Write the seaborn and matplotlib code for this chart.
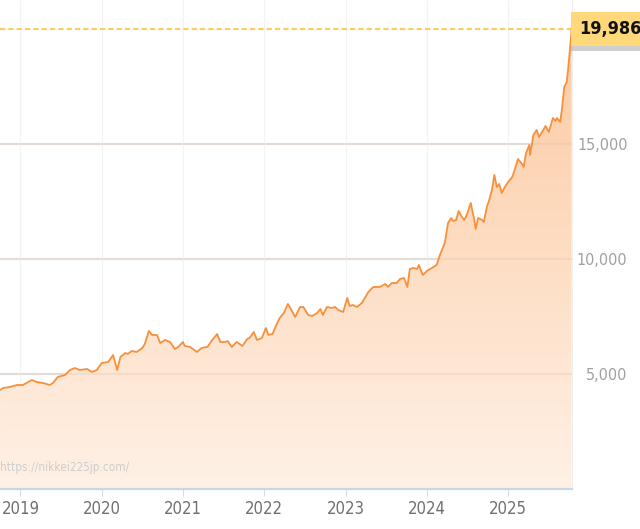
import numpy as np
import pandas as pd
import matplotlib
matplotlib.use("Agg")
import matplotlib.pyplot as plt
import matplotlib.patheffects as pe
from matplotlib.colors import LinearSegmentedColormap
import seaborn as sns

# ---- data ----
years = [2018.75, 2018.79, 2018.87, 2018.96, 2019.03, 2019.14, 2019.20, 2019.28, 2019.36, 2019.40,
         2019.46, 2019.55, 2019.61, 2019.67, 2019.73, 2019.82, 2019.88, 2019.94, 2020.00, 2020.08,
         2020.14, 2020.19, 2020.23, 2020.29, 2020.32, 2020.37, 2020.43, 2020.50, 2020.53, 2020.58,
         2020.62, 2020.68, 2020.72, 2020.78, 2020.84, 2020.90, 2020.94, 2021.00, 2021.02, 2021.09,
         2021.17, 2021.23, 2021.30, 2021.36, 2021.42, 2021.46, 2021.52, 2021.55, 2021.60, 2021.66,
         2021.73, 2021.79, 2021.82, 2021.87, 2021.91, 2021.97, 2022.02, 2022.05, 2022.10, 2022.16,
         2022.19, 2022.24, 2022.29, 2022.32, 2022.38, 2022.44, 2022.48, 2022.54, 2022.59, 2022.65,
         2022.69, 2022.72, 2022.77, 2022.83, 2022.87, 2022.91, 2022.97, 2023.02, 2023.05, 2023.09,
         2023.14, 2023.20, 2023.28, 2023.34, 2023.42, 2023.49, 2023.52, 2023.57, 2023.63, 2023.67,
         2023.72, 2023.76, 2023.79, 2023.83, 2023.88, 2023.90, 2023.95, 2024.00, 2024.06, 2024.12,
         2024.16, 2024.22, 2024.26, 2024.30, 2024.32, 2024.36, 2024.39, 2024.43, 2024.46, 2024.49,
         2024.54, 2024.57, 2024.58, 2024.60, 2024.63, 2024.68, 2024.70, 2024.74, 2024.76, 2024.80,
         2024.83, 2024.86, 2024.89, 2024.92, 2024.96, 2025.00, 2025.05, 2025.08, 2025.12, 2025.17,
         2025.19, 2025.22, 2025.26, 2025.27, 2025.31, 2025.35, 2025.38, 2025.43, 2025.46, 2025.50,
         2025.55, 2025.58, 2025.60, 2025.64, 2025.66, 2025.69, 2025.72, 2025.74, 2025.77, 2025.78]
values = [4305, 4391, 4435, 4522, 4522, 4739, 4652, 4609, 4522, 4609,
          4870, 4957, 5174, 5261, 5174, 5218, 5087, 5174, 5478, 5522,
          5826, 5174, 5739, 5913, 5870, 6000, 5957, 6131, 6305, 6870,
          6696, 6696, 6348, 6479, 6392, 6087, 6174, 6392, 6218, 6174,
          5957, 6131, 6174, 6479, 6739, 6392, 6392, 6435, 6174, 6392,
          6218, 6522, 6565, 6826, 6479, 6565, 7000, 6696, 6739, 7218,
          7435, 7652, 8044, 7870, 7479, 7913, 7913, 7565, 7522, 7652,
          7826, 7565, 7913, 7870, 7913, 7783, 7696, 8305, 7957, 8000,
          7913, 8087, 8565, 8783, 8783, 8913, 8783, 8957, 8957, 9131,
          9174, 8783, 9566, 9609, 9566, 9739, 9305, 9479, 9609, 9739,
          10174, 10696, 11566, 11783, 11653, 11696, 12087, 11827, 11696, 11914,
          12435, 11914, 11783, 11305, 11783, 11696, 11609, 12305, 12479, 13000,
          13653, 13131, 13261, 12870, 13131, 13348, 13566, 13870, 14348, 14131,
          14000, 14609, 14957, 14522, 15392, 15609, 15305, 15609, 15783, 15522,
          16131, 16000, 16131, 15957, 16479, 17479, 17696, 18348, 19522, 19986]
x_ticks = [2019, 2020, 2021, 2022, 2023, 2024, 2025]
x_labels = ["2019", "2020", "2021", "2022", "2023", "2024", "2025"]
y_ticks = [5000, 10000, 15000]
y_labels = ["5,000", "10,000", "15,000"]
last_value = 19986
last_label = "19,986"
watermark = "https://nikkei225jp.com/"

df = pd.DataFrame({"year": years, "value": values})

sns.set_theme(style="white")
fam = ["DejaVu Sans"]
plt.rcParams["font.family"] = fam
plt.rcParams["font.stretch"] = "condensed"

W, H = 640, 529
fig = plt.figure(figsize=(W / 100, H / 100), dpi=100)
fig.patch.set_facecolor("white")
ax_left, ax_right, ax_top, ax_bot = 0, 572, 0, 489
ax = fig.add_axes([ax_left / W, (H - ax_bot) / H, (ax_right - ax_left) / W, (ax_bot - ax_top) / H])
ax.set_facecolor("white")

xmin, xmax = 2018.749, 2025.785
ymin, ymax = 0, 21260
ax.set_xlim(xmin, xmax)
ax.set_ylim(ymin, ymax)

# grid lines
for yt in y_ticks:
    ax.axhline(yt, color="#e6e6e6", lw=1.5, zorder=1)
for xt in x_ticks:
    ax.axvline(xt, color="#f3f3f3", lw=0.8, zorder=1)

# gradient fill under the line
poly = ax.fill_between(df["year"], df["value"], 0, facecolor="none", edgecolor="none", zorder=2)
cmap = LinearSegmentedColormap.from_list("g", [(255/255, 241/255, 230/255), (252/255, 200/255, 158/255)])
grad = np.linspace(0, 1, 256).reshape(-1, 1)
im = ax.imshow(grad, extent=[xmin, xmax, ymin, ymax], origin="lower", aspect="auto",
               cmap=cmap, zorder=2, interpolation="bicubic")
im.set_clip_path(poly.get_paths()[0], transform=ax.transData)
# faint grid lines over the fill
for yt in y_ticks:
    ax.axhline(yt, color="#d9b79c", lw=1.5, alpha=0.22, zorder=3)

# line
sns.lineplot(data=df, x="year", y="value", ax=ax, color="#f7903a", linewidth=1.3, zorder=4)

# dashed last-value line
ax.axhline(last_value, color="#ffcb5c", lw=1.5, ls=(0, (2.5, 1.5)), zorder=3)

# axes styling
for s in ["top", "left"]:
    ax.spines[s].set_visible(False)
ax.spines["right"].set_color("#efefef")
ax.spines["right"].set_linewidth(0.8)
ax.spines["bottom"].set_color("#c8d6e5")
ax.spines["bottom"].set_linewidth(1.6)
ax.spines["bottom"].set_zorder(5)

ax.set_xticks(x_ticks)
ax.set_xticklabels(x_labels)
ax.tick_params(axis="x", bottom=True, length=5, width=0.8, color="#d0dbe6",
               labelsize=12, labelcolor="#707070", pad=3)

ax.yaxis.tick_right()
ax.set_yticks(y_ticks + [last_value])
ax.set_yticklabels(y_labels + [""])
ax.tick_params(axis="y", right=True, length=0, labelsize=11.5, labelcolor="#a0a0a0", pad=40)
for lab in ax.get_yticklabels():
    lab.set_horizontalalignment("right")
ax.set_xlabel("")
ax.set_ylabel("")

# tick mark at last value
ax.plot([1.0, 1.009], [last_value, last_value], transform=ax.get_yaxis_transform(),
        color="black", lw=1.4, clip_on=False, zorder=6)

# highlighted last-value label
t = ax.text(1.0 + 7 / 572, last_value, last_label, transform=ax.get_yaxis_transform(),
            ha="left", va="center", fontsize=13, fontweight="bold", color="#111111",
            zorder=7,
            bbox=dict(boxstyle="square,pad=0.45", facecolor="#ffd87a", edgecolor="none"))
t.get_bbox_patch().set_path_effects([pe.SimplePatchShadow(offset=(0, -3), shadow_rgbFace="#b0b0b0", alpha=0.6),
                                     pe.Normal()])

# watermark
ax.text(0.0, (489 - 468) / 489, watermark, transform=ax.transAxes, ha="left", va="center",
        fontsize=8.5, color="#cdcdcd", zorder=5)

fig.savefig("out.png", dpi=100, facecolor="white")
